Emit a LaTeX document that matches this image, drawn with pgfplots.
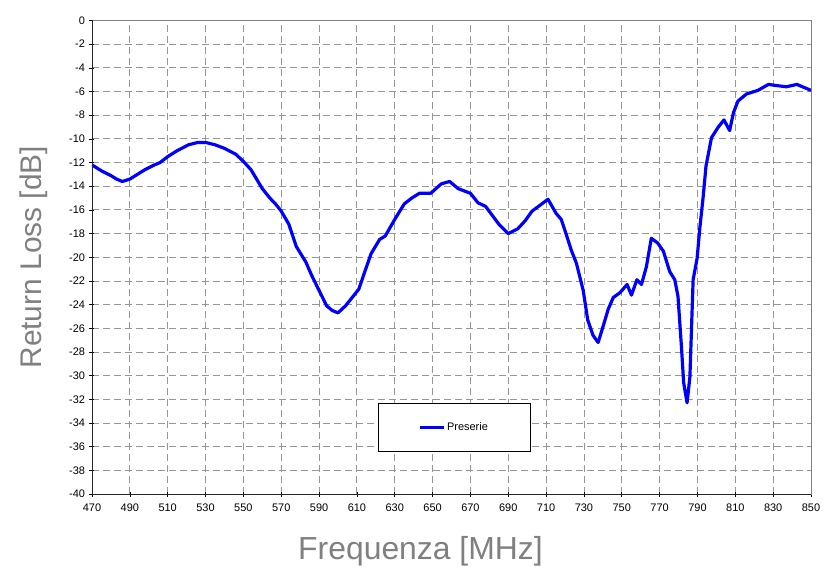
\documentclass[border=0pt]{standalone}
\usepackage{pgfplots}
\pgfplotsset{compat=1.18}
\usepackage{fontspec}
\setmainfont{Liberation Sans}
\definecolor{gridgray}{RGB}{150,150,150}
\definecolor{labelgray}{RGB}{128,128,128}
\definecolor{curveblue}{RGB}{0,0,255}
\begin{document}
\begin{tikzpicture}
\begin{axis}[
  scale only axis,
  width=719bp, height=473.5bp,
  xmin=470, xmax=850, ymin=-40, ymax=0,
  xtick={470,490,...,850},
  ytick={-40,-38,...,0},
  xtick pos=left, ytick pos=left,
  tick align=center,
  major tick length=5bp,
  tick style={black, line width=0.6pt},
  grid=major,
  major grid style={gridgray, dash pattern=on 7bp off 4bp, line width=0.8pt},
  axis line style={draw=gray, line width=0.8pt},
  /pgf/number format/assume math mode=true,
  /pgf/number format/1000 sep={},
  ticklabel style={font=\fontsize{11}{13}\selectfont},
  xticklabel style={yshift=-4bp},
  yticklabel style={xshift=-1bp},
  xlabel={Frequenza [MHz]},
  ylabel={Return Loss [dB]},
  label style={font=\fontsize{30}{36}\selectfont, text=labelgray},
  xlabel style={yshift=-18bp, xshift=-31bp, font=\fontsize{32}{38}\selectfont},
  ylabel style={yshift=15bp},
  legend style={
    at={(rel axis cs:0.5035,0.1404)}, anchor=center,
    draw=black, line width=0.8pt,
    inner xsep=40bp, inner ysep=17bp,
    font=\fontsize{11}{13}\selectfont,
  },
  legend image code/.code={\draw[#1, line width=3pt] (0bp,0bp) -- (24bp,0bp);},
]
\addplot[curveblue, line width=3.2pt, line join=round] coordinates {
(470,-12.2) (475,-12.7) (480,-13.1) (483,-13.4) (486,-13.6) (490,-13.4)
(494,-13.0) (498,-12.6) (503,-12.2) (506,-12.0) (510,-11.5) (515,-11.0)
(521,-10.5) (526,-10.3) (530,-10.3) (535,-10.5) (540,-10.8) (546,-11.3)
(550,-11.9) (554,-12.6) (557,-13.4) (560,-14.2) (564,-15.0) (567,-15.5)
(570,-16.1) (574,-17.2) (578,-19.1) (583,-20.4) (586,-21.5) (590,-22.8)
(594,-24.1) (597,-24.5) (600,-24.7) (604,-24.1) (608,-23.3) (611,-22.7)
(614,-21.3) (617.5,-19.7) (622,-18.5) (625,-18.2) (630,-16.8) (635,-15.5)
(639,-15.0) (643,-14.6) (649,-14.6) (654.6,-13.8) (659,-13.6) (663.5,-14.2)
(670,-14.6) (674,-15.4) (678,-15.7) (685,-17.2) (690,-18.0) (695,-17.6)
(699,-16.9) (702.6,-16.1) (706,-15.7) (711,-15.1) (715.3,-16.3) (718,-16.8)
(720.7,-18.1) (723.3,-19.4) (726,-20.5) (729.6,-22.8) (732,-25.3) (734.8,-26.6)
(737.5,-27.2) (740.2,-25.8) (742.8,-24.4) (745.5,-23.4) (749,-23.0) (752.8,-22.3)
(755.1,-23.2) (758,-21.9) (760.4,-22.3) (763,-20.8) (765.6,-18.4) (769,-18.8)
(772,-19.5) (775.3,-21.2) (778,-21.9) (779.7,-23.3) (781.5,-27.5) (782.7,-30.6)
(784.5,-32.3) (786,-30.1) (787.7,-21.9) (789.8,-20.1) (791.2,-17.6) (793,-14.9)
(794.5,-12.3) (797.4,-9.9) (801,-9.0) (804,-8.4) (807,-9.3) (809,-7.8)
(811.4,-6.8) (816,-6.2) (822,-5.9) (827.5,-5.4) (832,-5.5) (837,-5.6)
(842.5,-5.4) (850,-5.9)
};
\addlegendentry{Preserie}
% dark left and bottom axis lines
\draw[black!85, line width=1pt] (rel axis cs:0,1) -- (rel axis cs:0,0) -- (rel axis cs:1,0);
\end{axis}
\pgfresetboundingbox
\useasboundingbox ([shift={(-92bp,-73bp)}]current axis.south west) rectangle ([shift={(12bp,20.5bp)}]current axis.north east);
\end{tikzpicture}
\end{document}
